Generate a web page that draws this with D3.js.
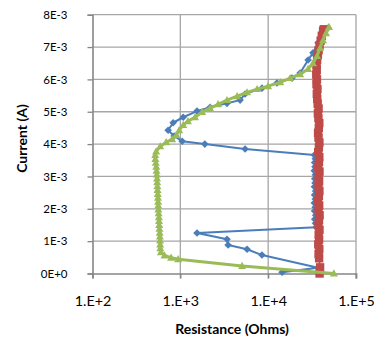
<!DOCTYPE html>
<html>
<head>
<meta charset="utf-8">
<script src="https://cdn.jsdelivr.net/npm/d3@7/dist/d3.min.js"></script>
<style>
  body { margin: 0; background: #fff; }
  text { font-family: Lato, "Open Sans", sans-serif; fill: #000; }
</style>
</head>
<body>
<svg id="chart" width="374" height="337"></svg>
<script>
// ---- data (resistance in ohms, current in mA) ----
var blueR = [14400, 37000, 8500, 5750, 3500, 3400, 1550, 35100,
  34600, 33900, 34800, 33700, 34300, 33500, 34400, 33800, 34700, 33600, 34200, 33900,
  34500, 33500, 34100, 33800, 34400, 33600,
  5460, 1900, 1050, 850, 726, 828, 1077, 1550, 2180, 3400, 4790, 5460,
  8500, 12600, 18700, 23100, 28500, 32400, 37000, 42200, 48000];
var blueI = [0.04, 0.18, 0.57, 0.75, 0.88, 1.06, 1.25, 1.43,
  1.55, 1.68, 1.80, 1.93, 2.05, 2.18, 2.30, 2.43, 2.55, 2.68, 2.80, 2.93,
  3.05, 3.18, 3.30, 3.43, 3.55, 3.66,
  3.85, 4.00, 4.09, 4.25, 4.43, 4.66, 4.83, 5.02, 5.14, 5.26, 5.36, 5.55,
  5.73, 5.89, 6.04, 6.20, 6.60, 6.82, 7.13, 7.38, 7.59];

var redR = [38500, 39000, 38000, 37500, 38200, 37200, 38000, 37600, 38400, 37300,
  37900, 38500, 37400, 38100, 37000, 37800, 38300, 37300, 38000, 37500,
  38400, 37200, 37900, 38200, 37100, 37800, 38300, 37400, 37000, 37700,
  38200, 37300, 36800, 37500, 36600, 36200, 35800, 36400, 35500, 35900,
  35300, 35700, 35600, 36100, 36800, 37500, 38500, 39600, 40800, 42200, 43000];
var redI = [0.00, 0.19, 0.47, 0.60, 0.75, 0.90, 1.05, 1.20, 1.35, 1.50,
  1.65, 1.80, 1.95, 2.10, 2.25, 2.40, 2.55, 2.70, 2.85, 3.00,
  3.15, 3.30, 3.45, 3.60, 3.75, 3.90, 4.05, 4.20, 4.35, 4.50,
  4.65, 4.80, 4.95, 5.10, 5.25, 5.40, 5.55, 5.70, 5.85, 6.00,
  6.15, 6.30, 6.45, 6.60, 6.75, 6.90, 7.05, 7.20, 7.35, 7.50, 7.55];

var greenR = [56000, 5050, 944, 785, 660, 600, 592, 590, 588, 585,
  582, 578, 575, 572, 570, 566, 562, 560, 558, 556,
  553, 550, 548, 545, 543, 540, 536, 532, 526, 520,
  518, 530, 590, 690, 806, 900, 970, 1080, 1220, 1470,
  1770, 2180, 2690, 3400, 4430, 5750, 7480, 9970, 13700, 17800,
  23100, 28500, 32400, 36000, 39000, 42200, 45600, 49300];
var greenI = [0.00, 0.23, 0.44, 0.49, 0.56, 0.66, 0.78, 0.90, 1.02, 1.14,
  1.26, 1.38, 1.50, 1.62, 1.74, 1.86, 1.98, 2.10, 2.22, 2.34,
  2.46, 2.58, 2.70, 2.82, 2.94, 3.06, 3.18, 3.30, 3.42, 3.54,
  3.66, 3.77, 3.93, 4.06, 4.15, 4.28, 4.43, 4.59, 4.71, 4.83,
  4.99, 5.11, 5.23, 5.36, 5.48, 5.60, 5.70, 5.79, 5.91, 6.04,
  6.16, 6.32, 6.50, 6.72, 6.97, 7.21, 7.43, 7.62];

var xTicks = [1e2, 1e3, 1e4, 1e5];
var xTickLabels = ["1.E+2", "1.E+3", "1.E+4", "1.E+5"];
var yTicks = [0, 1, 2, 3, 4, 5, 6, 7, 8];
var yTickLabels = ["0E+0", "1E-3", "2E-3", "3E-3", "4E-3", "5E-3", "6E-3", "7E-3", "8E-3"];

var series = [
  { name: "blue", R: blueR, I: blueI, color: "#4A7EBB", width: 2, marker: "diamond" },
  { name: "red", R: redR, I: redI, color: "#BE4B48", width: 1.5, marker: "square" },
  { name: "green", R: greenR, I: greenI, color: "#9BBB59", width: 3, marker: "triangle" }
];

var svg = d3.select("#chart");
var plotLeft = 92.5, plotRight = 356, plotTop = 14.7, plotBottom = 273.5;

var x = d3.scaleLog().domain([1e2, 1e5]).range([plotLeft, plotRight]);
var y = d3.scaleLinear().domain([0, 8]).range([plotBottom, plotTop]);

// gridlines
svg.append("g")
  .selectAll("line")
  .data(yTicks.slice(1))
  .join("line")
  .attr("x1", plotLeft).attr("x2", plotRight)
  .attr("y1", d => y(d)).attr("y2", d => y(d))
  .attr("stroke", "#A6A6A6").attr("stroke-width", 1.3);

svg.append("g")
  .selectAll("line")
  .data(xTicks.slice(1))
  .join("line")
  .attr("x1", d => x(d)).attr("x2", d => x(d))
  .attr("y1", plotTop).attr("y2", plotBottom + 5)
  .attr("stroke", "#A6A6A6").attr("stroke-width", 1.3);

// axes
var yAxis = d3.axisLeft(y).tickValues(yTicks).tickSize(5).tickFormat((d, i) => yTickLabels[i]);
var gy = svg.append("g").attr("transform", `translate(${plotLeft},0)`).call(yAxis);
gy.select(".domain").attr("stroke", "#868686").attr("stroke-width", 1.6);
gy.selectAll(".tick line").attr("stroke", "#868686").attr("stroke-width", 1.3);
gy.selectAll(".tick text").attr("x", -25).style("font-size", "11.5px").style("font-family", "Lato, sans-serif");

var xAxis = d3.axisBottom(x).tickValues(xTicks).tickSize(5).tickFormat((d, i) => xTickLabels[i]);
var gx = svg.append("g").attr("transform", `translate(0,${plotBottom})`).call(xAxis);
gx.select(".domain").attr("stroke", "#868686").attr("stroke-width", 1.6);
gx.selectAll(".tick line").attr("stroke", "#868686").attr("stroke-width", 1.3);
gx.selectAll(".tick text").attr("y", 22).style("font-size", "14.3px").style("font-family", "Lato, sans-serif");

// series lines + markers
var markerPath = {
  diamond: "M0,-3.8L3.8,0L0,3.8L-3.8,0Z",
  square: "M-4.2,-4.2H4.2V4.2H-4.2Z",
  triangle: "M0,-4.2L4,3H-4Z"
};

series.forEach(s => {
  var pts = s.R.map((r, i) => [r, s.I[i]]);
  var line = d3.line().x(d => x(d[0])).y(d => y(d[1]));
  var g = svg.append("g").attr("class", "series-" + s.name);
  g.append("path")
    .attr("d", line(pts))
    .attr("fill", "none")
    .attr("stroke", s.color)
    .attr("stroke-width", s.width)
    .attr("stroke-linejoin", "round");
  g.selectAll("path.mark")
    .data(pts)
    .join("path")
    .attr("class", "mark")
    .attr("d", markerPath[s.marker])
    .attr("transform", d => `translate(${x(d[0])},${y(d[1])})`)
    .attr("fill", s.color);
});

// axis titles
svg.append("text")
  .attr("x", 232).attr("y", 334)
  .attr("text-anchor", "middle")
  .style("font-weight", "bold").style("font-size", "14px")
  .text("Resistance (Ohms)");

svg.append("text")
  .attr("transform", "translate(26.5,138.5) rotate(-90)")
  .attr("text-anchor", "middle")
  .style("font-weight", "bold").style("font-size", "14px")
  .text("Current (A)");
</script>
</body>
</html>
